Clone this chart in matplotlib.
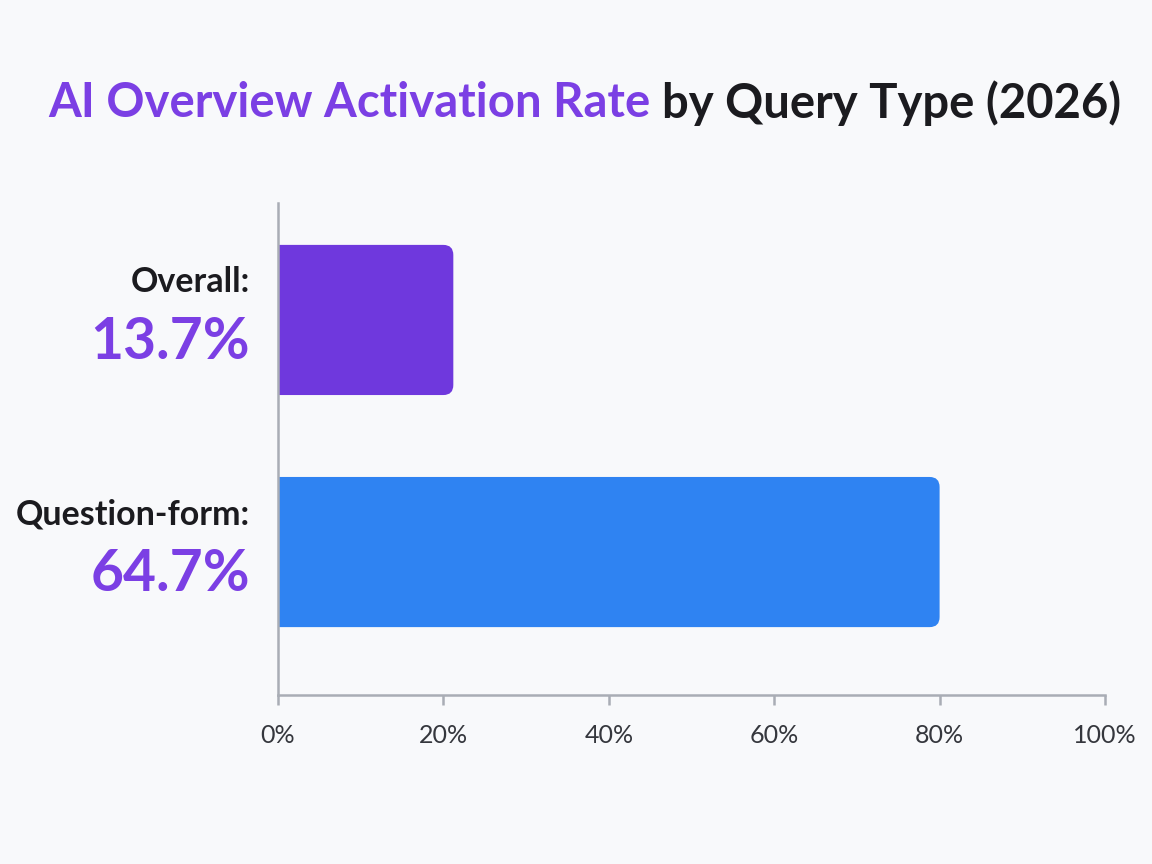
import matplotlib
matplotlib.use("Agg")
import matplotlib.pyplot as plt
from matplotlib.patches import FancyBboxPatch

# data
categories = ["Question-form", "Overall"]
bar_values = [80.0, 21.2]          # drawn bar lengths (%)
label_values = ["64.7%", "13.7%"]  # printed labels
bar_colors = ["#2f83f2", "#6f38dd"]
ticks = [0, 20, 40, 60, 80, 100]
tick_labels = ["0%", "20%", "40%", "60%", "80%", "100%"]

bg = "#f8f9fb"
purple = "#7b3fe4"
dark = "#1b1b1f"
grey = "#a9adb5"

plt.rcParams["font.family"] = ["Lato", "DejaVu Sans"]

fig = plt.figure(figsize=(11.52, 8.64), dpi=100, facecolor=bg)
ax = fig.add_axes([278 / 1152, 1 - 695 / 864, (1105 - 278) / 1152, (695 - 203) / 864])
ax.set_facecolor(bg)

ypos = list(range(len(categories)))
bars = ax.barh(ypos, bar_values, height=0.647, color=bar_colors)

# swap plain bars for rounded ones
for b, c in zip(bars, bar_colors):
    b.set_visible(False)
    x, y = b.get_x(), b.get_y()
    w, h = b.get_width(), b.get_height()
    p = FancyBboxPatch((x - 3, y), w + 3, h,
                       boxstyle="round,pad=0,rounding_size=1.2",
                       mutation_aspect=0.036, facecolor=c, edgecolor="none")
    ax.add_patch(p)

ax.set_xlim(0, 100)
ax.set_ylim(-0.616, 1.504)
ax.set_xticks(ticks)
ax.set_xticklabels(tick_labels)
ax.set_yticks([])
for s in ["top", "right"]:
    ax.spines[s].set_visible(False)
for s in ["left", "bottom"]:
    ax.spines[s].set_color(grey)
    ax.spines[s].set_linewidth(1.8)
ax.tick_params(axis="x", length=7, width=1.8, color=grey, pad=14,
               labelsize=18, labelcolor="#35373d")

# category labels with the printed values
for yv, cat, lab in zip(ypos, categories, label_values):
    ax.annotate(cat + ":", xy=(0, yv), xycoords=("axes fraction", "data"),
                xytext=(-20, 27), textcoords="offset points",
                ha="right", va="center", fontsize=24.5, fontweight="bold", color=dark)
    ax.annotate(lab, xy=(0, yv), xycoords=("axes fraction", "data"),
                xytext=(-20, -16), textcoords="offset points",
                ha="right", va="center", fontsize=41, fontweight="bold", color=purple)

# two-colour title
t1 = fig.text(48 / 1152, 1 - 103 / 864, "AI Overview Activation Rate",
              fontsize=34, fontweight="bold", color=purple, va="center", ha="left")
fig.canvas.draw()
ext = t1.get_window_extent()
fig.text((ext.x1 + 12) / 1152, 1 - 103 / 864, "by Query Type (2026)",
         fontsize=34, fontweight="bold", color=dark, va="center", ha="left")

fig.savefig("out.png", dpi=100, facecolor=bg)
